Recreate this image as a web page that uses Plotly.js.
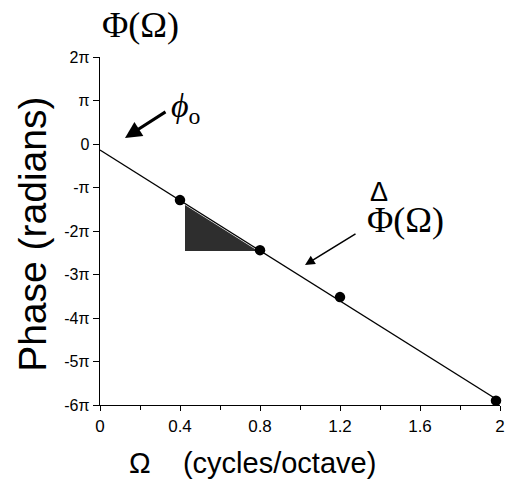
<!DOCTYPE html>
<html><head><meta charset="utf-8">
<script src="https://cdn.plot.ly/plotly-3.0.1.min.js"></script>
<style>body{margin:0;background:#fff}#c{width:515px;height:490px}</style>
</head><body><div id="c"></div>
<script>
// values in multiples of pi (radians / pi)
const lineX = [0, 2];
const lineY = [-0.14, -5.92];
const pointsX = [0.4, 0.8, 1.2, 1.98];
const pointsY = [-1.29, -2.44, -3.52, -5.9];
const triX = [0.425, 0.425, 0.79];
const triY = [-1.4, -2.46, -2.46];
const yTickVals = [2, 1, 0, -1, -2, -3, -4, -5, -6];
const yTickText = ['2π', 'π', '0', '-π', '-2π', '-3π', '-4π', '-5π', '-6π'];
const xTickVals = [0, 0.4, 0.8, 1.2, 1.6, 2];
const xTickText = ['0', '0.4', '0.8', '1.2', '1.6', '2'];
const P = Math.PI;
const rad = a => a.map(v => v * P);

const traces = [
  {x: triX, y: rad(triY), mode: 'lines', fill: 'toself', fillcolor: '#2e2e2e', line: {width: 0, color: '#2e2e2e'}, hoverinfo: 'skip'},
  {x: lineX, y: rad(lineY), mode: 'lines', line: {color: '#000', width: 1.3}},
  {x: pointsX, y: rad(pointsY), mode: 'markers', marker: {color: '#000', size: 10.5}, cliponaxis: false}
];
const serif = 'Liberation Serif, serif';
const sans = 'Liberation Sans, Arial, sans-serif';
const layout = {
  width: 515, height: 490,
  margin: {l: 100, r: 15, t: 57, b: 85},
  showlegend: false,
  paper_bgcolor: '#fff', plot_bgcolor: '#fff',
  font: {family: sans, color: '#000'},
  xaxis: {
    range: [0, 2], showgrid: false, zeroline: false, showline: true, linecolor: '#000', linewidth: 1.3,
    ticks: 'outside', ticklen: 5, tickwidth: 1, tickcolor: '#000',
    tickvals: xTickVals, ticktext: xTickText, tickfont: {size: 17, family: sans},
    minor: {dtick: 0.2, ticks: 'outside', ticklen: 4, tickcolor: '#000', showgrid: false}
  },
  yaxis: {
    range: [-6 * P, 2 * P], showgrid: false, zeroline: false, showline: true, linecolor: '#000', linewidth: 1.3,
    ticks: 'outside', ticklen: 6, tickwidth: 1, tickcolor: '#000',
    tickvals: rad(yTickVals), ticktext: yTickText, tickfont: {size: 16, family: sans}
  },
  annotations: [
    {xref: 'paper', yref: 'paper', x: 0.381, y: 0, yshift: -58, text: 'Ω&nbsp;&nbsp;&nbsp;&nbsp;(cycles/octave)', showarrow: false,
     font: {family: sans, size: 29}, xanchor: 'center', yanchor: 'middle'},
    {xref: 'paper', yref: 'paper', x: 0, xshift: -67, y: 0.489, text: 'Phase (radians)', textangle: -90, showarrow: false,
     font: {family: sans, size: 39}, xanchor: 'center', yanchor: 'middle'},
    {xref: 'paper', yref: 'paper', x: 0.1, y: 1.0, yshift: 32, text: 'Φ(Ω)', showarrow: false,
     font: {family: serif, size: 36}, xanchor: 'center', yanchor: 'middle'},
    {x: 0.125, y: 0.14 * P, ax: 42, ay: -27, text: '', showarrow: true, arrowhead: 2, arrowsize: 1.1, arrowwidth: 3, arrowcolor: '#000'},
    {xref: 'x', yref: 'y', x: 0.43, y: 0.83 * P, text: '<i>ϕ</i><sub>o</sub>', showarrow: false,
     font: {family: serif, size: 34}, xanchor: 'center', yanchor: 'middle'},
    {x: 1.025, y: -2.78 * P, ax: 52, ay: -32, text: '', showarrow: true, arrowhead: 2, arrowsize: 1.3, arrowwidth: 1.5, arrowcolor: '#000'},
    {xref: 'x', yref: 'y', x: 1.525, y: -1.75 * P, text: 'Φ(Ω)', showarrow: false,
     font: {family: serif, size: 36}, xanchor: 'center', yanchor: 'middle'},
    {xref: 'x', yref: 'y', x: 1.397, y: -1.1 * P, text: 'Δ', showarrow: false,
     font: {family: sans, size: 27}, xanchor: 'center', yanchor: 'middle'}
  ]
};
Plotly.newPlot('c', traces, layout, {displayModeBar: false, staticPlot: true});
</script></body></html>
